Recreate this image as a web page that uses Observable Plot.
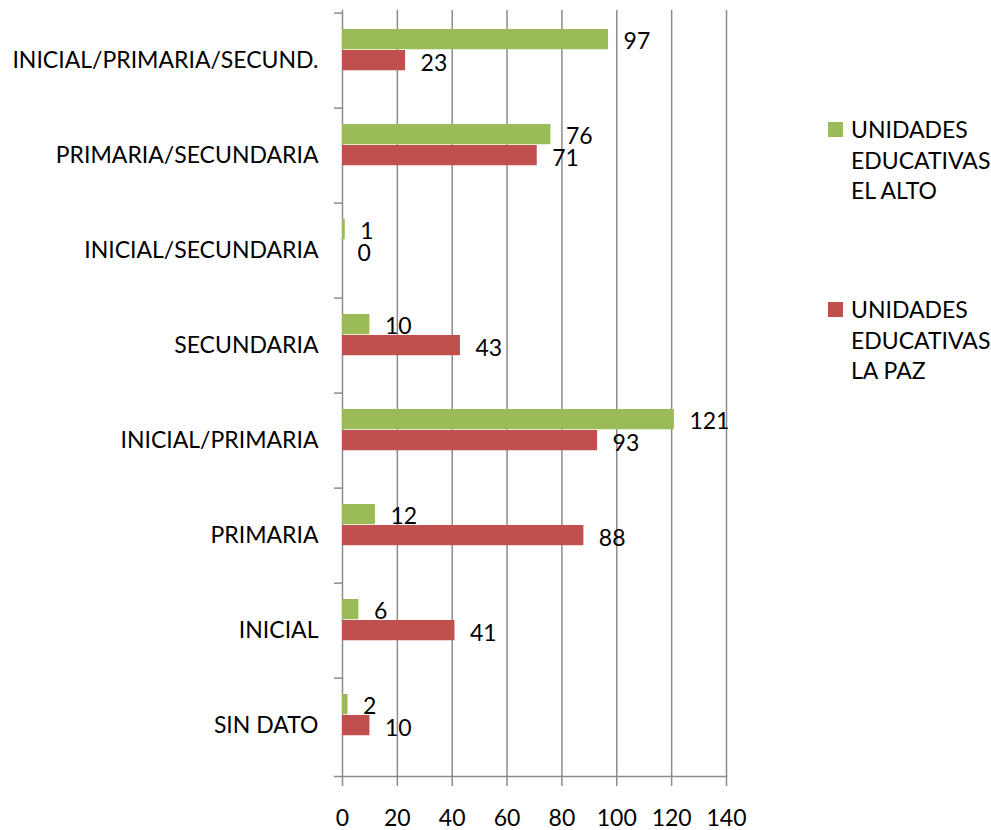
<!DOCTYPE html>
<html>
<head>
<meta charset="utf-8">
<script src="https://cdn.jsdelivr.net/npm/d3@7"></script>
<script src="https://cdn.jsdelivr.net/npm/@observablehq/plot@0.6"></script>
<style>
  html, body { margin: 0; padding: 0; background: #fff; }
  #wrap { position: relative; width: 991px; height: 830px; font-family: Lato, sans-serif; }
  .leg { position: absolute; left: 828px; font-size: 23px; line-height: 30.5px; color: #000; }
  .leg .sw { position: absolute; left: 0; top: 8px; width: 15px; height: 15px; }
  .leg .tx { position: absolute; left: 23px; top: 0; white-space: nowrap; }
</style>
</head>
<body>
<div id="wrap"></div>
<script>
const categories = ["INICIAL/PRIMARIA/SECUND.", "PRIMARIA/SECUNDARIA", "INICIAL/SECUNDARIA", "SECUNDARIA", "INICIAL/PRIMARIA", "PRIMARIA", "INICIAL", "SIN DATO"];
const elAlto = [97, 76, 1, 10, 121, 12, 6, 2];
const laPaz = [23, 71, 0, 43, 93, 88, 41, 10];
const seriesNames = [["UNIDADES", "EDUCATIVAS", "EL ALTO"], ["UNIDADES", "EDUCATIVAS", "LA PAZ"]];
const colors = ["#9BBB59", "#C0504D"];
const xTicks = [0, 20, 40, 60, 80, 100, 120, 140];

const data = categories.map((c, i) => ({cat: c, alto: elAlto[i], paz: laPaz[i]}));

const W = 991, H = 830, mT = 10, mB = 54;
const bw = (H - mT - mB) / categories.length;
const grid = "#8c8c8c";

const chart = Plot.plot({
  width: W, height: H,
  marginLeft: 342, marginRight: 265, marginTop: mT, marginBottom: mB,
  style: {fontFamily: "Lato, sans-serif", fontSize: "23px", color: "#000", background: "#fff", overflow: "visible"},
  x: {domain: [0, 140], label: null},
  y: {domain: categories, padding: 0, label: null},
  marks: [
    Plot.ruleX(xTicks, {stroke: grid, strokeWidth: 1.5}),
    Plot.barX(data, {x: "alto", y: "cat", fill: colors[0], insetTop: 16, insetBottom: bw - 37}),
    Plot.barX(data, {x: "paz", y: "cat", fill: colors[1], insetTop: 37, insetBottom: bw - 58}),
    Plot.text(data, {x: "alto", y: "cat", text: d => String(d.alto), textAnchor: "start", lineAnchor: "middle", dx: 15, dy: 28.5 - bw / 2, fill: "#000"}),
    Plot.text(data, {x: "paz", y: "cat", text: d => String(d.paz), textAnchor: "start", lineAnchor: "middle", dx: 15, dy: 50 - bw / 2, fill: "#000"}),
    Plot.axisX({ticks: xTicks, tickSize: 10, tickPadding: 23, stroke: grid, strokeWidth: 1.5, strokeOpacity: 1, fill: "#000", tickFormat: d => String(d), label: null}),
    Plot.axisY({tickSize: 0, tickPadding: 24, fill: "#000", label: null}),
    Plot.axisY({tickSize: 8, tickFormat: () => "", dy: -bw / 2, stroke: grid, strokeWidth: 1.5, strokeOpacity: 1, label: null}),
    Plot.frame({anchor: "bottom", insetLeft: -8, stroke: grid, strokeWidth: 1.5, strokeOpacity: 1})
  ]
});

const wrap = document.getElementById("wrap");
wrap.appendChild(chart);

const legTops = [114, 294];
seriesNames.forEach((lines, i) => {
  const d = document.createElement("div");
  d.className = "leg";
  d.style.top = legTops[i] + "px";
  const sw = document.createElement("div");
  sw.className = "sw";
  sw.style.background = colors[i];
  const tx = document.createElement("div");
  tx.className = "tx";
  tx.innerHTML = lines.join("<br>");
  d.appendChild(sw);
  d.appendChild(tx);
  wrap.appendChild(d);
});
</script>
</body>
</html>
